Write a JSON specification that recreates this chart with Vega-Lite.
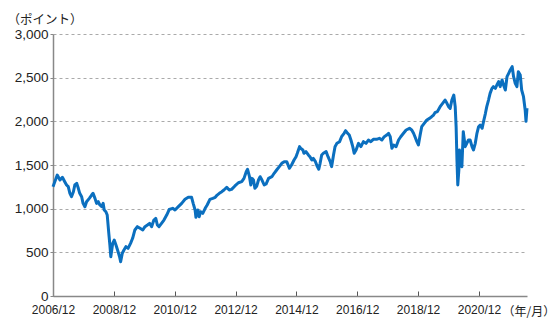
{
  "$schema": "https://vega.github.io/schema/vega-lite/v6.json",
  "width": 474,
  "height": 262,
  "autosize": "none",
  "padding": {"left": 53, "top": 34, "right": 28, "bottom": 26},
  "background": "white",
  "config": {"view": {"stroke": null}},
  "data": {"values": [
    {"date": "2006-12-01", "value": 1252},
    {"date": "2007-01-21", "value": 1385},
    {"date": "2007-02-23", "value": 1328},
    {"date": "2007-03-24", "value": 1359},
    {"date": "2007-04-21", "value": 1309},
    {"date": "2007-05-13", "value": 1271},
    {"date": "2007-06-02", "value": 1252},
    {"date": "2007-06-22", "value": 1176},
    {"date": "2007-07-11", "value": 1137},
    {"date": "2007-08-03", "value": 1194},
    {"date": "2007-08-20", "value": 1271},
    {"date": "2007-09-12", "value": 1290},
    {"date": "2007-10-01", "value": 1233},
    {"date": "2007-10-18", "value": 1176},
    {"date": "2007-11-10", "value": 1137},
    {"date": "2007-11-27", "value": 1061},
    {"date": "2007-12-19", "value": 1023},
    {"date": "2008-01-08", "value": 1080},
    {"date": "2008-02-10", "value": 1118},
    {"date": "2008-03-09", "value": 1156},
    {"date": "2008-03-26", "value": 1176},
    {"date": "2008-04-18", "value": 1118},
    {"date": "2008-05-07", "value": 1061},
    {"date": "2008-05-27", "value": 1080},
    {"date": "2008-06-16", "value": 1042},
    {"date": "2008-07-08", "value": 1023},
    {"date": "2008-07-25", "value": 1061},
    {"date": "2008-08-07", "value": 985},
    {"date": "2008-08-27", "value": 965},
    {"date": "2008-09-12", "value": 927},
    {"date": "2008-10-01", "value": 718},
    {"date": "2008-10-14", "value": 584},
    {"date": "2008-10-25", "value": 450},
    {"date": "2008-11-17", "value": 603},
    {"date": "2008-12-05", "value": 641},
    {"date": "2008-12-26", "value": 584},
    {"date": "2009-01-14", "value": 527},
    {"date": "2009-02-07", "value": 450},
    {"date": "2009-02-20", "value": 393},
    {"date": "2009-03-12", "value": 489},
    {"date": "2009-04-01", "value": 527},
    {"date": "2009-04-24", "value": 565},
    {"date": "2009-05-20", "value": 546},
    {"date": "2009-06-19", "value": 603},
    {"date": "2009-07-14", "value": 661},
    {"date": "2009-08-10", "value": 756},
    {"date": "2009-09-09", "value": 794},
    {"date": "2009-10-11", "value": 775},
    {"date": "2009-11-13", "value": 756},
    {"date": "2009-12-09", "value": 794},
    {"date": "2010-01-08", "value": 813},
    {"date": "2010-02-03", "value": 832},
    {"date": "2010-02-27", "value": 794},
    {"date": "2010-03-26", "value": 870},
    {"date": "2010-04-18", "value": 889},
    {"date": "2010-05-07", "value": 813},
    {"date": "2010-05-27", "value": 794},
    {"date": "2010-06-26", "value": 832},
    {"date": "2010-07-25", "value": 870},
    {"date": "2010-08-27", "value": 927},
    {"date": "2010-09-26", "value": 990},
    {"date": "2010-11-07", "value": 1004},
    {"date": "2010-12-05", "value": 985},
    {"date": "2011-01-14", "value": 1023},
    {"date": "2011-02-23", "value": 1061},
    {"date": "2011-04-04", "value": 1107},
    {"date": "2011-05-13", "value": 1130},
    {"date": "2011-06-22", "value": 1130},
    {"date": "2011-07-11", "value": 1061},
    {"date": "2011-08-03", "value": 985},
    {"date": "2011-08-13", "value": 901},
    {"date": "2011-09-05", "value": 985},
    {"date": "2011-09-22", "value": 908},
    {"date": "2011-10-08", "value": 965},
    {"date": "2011-11-03", "value": 946},
    {"date": "2011-12-02", "value": 1004},
    {"date": "2011-12-26", "value": 1042},
    {"date": "2012-01-28", "value": 1107},
    {"date": "2012-03-02", "value": 1118},
    {"date": "2012-04-01", "value": 1130},
    {"date": "2012-04-24", "value": 1156},
    {"date": "2012-05-20", "value": 1176},
    {"date": "2012-06-19", "value": 1194},
    {"date": "2012-07-14", "value": 1214},
    {"date": "2012-08-17", "value": 1244},
    {"date": "2012-09-16", "value": 1214},
    {"date": "2012-10-14", "value": 1221},
    {"date": "2012-11-23", "value": 1260},
    {"date": "2013-01-04", "value": 1297},
    {"date": "2013-02-13", "value": 1309},
    {"date": "2013-03-12", "value": 1347},
    {"date": "2013-04-08", "value": 1423},
    {"date": "2013-04-24", "value": 1451},
    {"date": "2013-05-17", "value": 1366},
    {"date": "2013-06-02", "value": 1271},
    {"date": "2013-06-16", "value": 1347},
    {"date": "2013-07-04", "value": 1328},
    {"date": "2013-07-21", "value": 1233},
    {"date": "2013-08-13", "value": 1260},
    {"date": "2013-09-02", "value": 1328},
    {"date": "2013-09-22", "value": 1366},
    {"date": "2013-10-14", "value": 1328},
    {"date": "2013-11-10", "value": 1271},
    {"date": "2013-12-02", "value": 1282},
    {"date": "2014-01-01", "value": 1347},
    {"date": "2014-02-10", "value": 1366},
    {"date": "2014-03-09", "value": 1405},
    {"date": "2014-04-08", "value": 1443},
    {"date": "2014-05-10", "value": 1481},
    {"date": "2014-06-09", "value": 1519},
    {"date": "2014-07-08", "value": 1538},
    {"date": "2014-08-07", "value": 1538},
    {"date": "2014-09-09", "value": 1462},
    {"date": "2014-10-04", "value": 1500},
    {"date": "2014-11-03", "value": 1557},
    {"date": "2014-11-27", "value": 1595},
    {"date": "2014-12-12", "value": 1634},
    {"date": "2015-01-08", "value": 1710},
    {"date": "2015-01-21", "value": 1691},
    {"date": "2015-02-17", "value": 1672},
    {"date": "2015-03-02", "value": 1634},
    {"date": "2015-03-26", "value": 1653},
    {"date": "2015-04-24", "value": 1615},
    {"date": "2015-05-13", "value": 1595},
    {"date": "2015-06-05", "value": 1557},
    {"date": "2015-06-22", "value": 1576},
    {"date": "2015-07-18", "value": 1538},
    {"date": "2015-08-10", "value": 1481},
    {"date": "2015-08-27", "value": 1451},
    {"date": "2015-09-12", "value": 1519},
    {"date": "2015-10-01", "value": 1615},
    {"date": "2015-10-21", "value": 1634},
    {"date": "2015-11-23", "value": 1653},
    {"date": "2015-12-16", "value": 1595},
    {"date": "2016-01-11", "value": 1538},
    {"date": "2016-01-28", "value": 1481},
    {"date": "2016-02-20", "value": 1615},
    {"date": "2016-03-09", "value": 1710},
    {"date": "2016-04-01", "value": 1748},
    {"date": "2016-05-03", "value": 1767},
    {"date": "2016-05-27", "value": 1824},
    {"date": "2016-06-26", "value": 1863},
    {"date": "2016-07-14", "value": 1893},
    {"date": "2016-08-07", "value": 1863},
    {"date": "2016-08-27", "value": 1843},
    {"date": "2016-09-16", "value": 1786},
    {"date": "2016-10-08", "value": 1710},
    {"date": "2016-10-25", "value": 1634},
    {"date": "2016-11-17", "value": 1672},
    {"date": "2016-12-16", "value": 1748},
    {"date": "2017-01-14", "value": 1710},
    {"date": "2017-02-13", "value": 1767},
    {"date": "2017-03-16", "value": 1748},
    {"date": "2017-04-14", "value": 1786},
    {"date": "2017-05-13", "value": 1767},
    {"date": "2017-06-12", "value": 1794},
    {"date": "2017-07-21", "value": 1794},
    {"date": "2017-08-23", "value": 1805},
    {"date": "2017-09-22", "value": 1786},
    {"date": "2017-10-21", "value": 1824},
    {"date": "2017-11-20", "value": 1843},
    {"date": "2017-12-12", "value": 1863},
    {"date": "2018-01-01", "value": 1824},
    {"date": "2018-01-21", "value": 1691},
    {"date": "2018-02-10", "value": 1729},
    {"date": "2018-03-12", "value": 1710},
    {"date": "2018-04-11", "value": 1786},
    {"date": "2018-05-07", "value": 1824},
    {"date": "2018-06-09", "value": 1863},
    {"date": "2018-07-11", "value": 1901},
    {"date": "2018-08-20", "value": 1920},
    {"date": "2018-09-16", "value": 1901},
    {"date": "2018-10-08", "value": 1863},
    {"date": "2018-10-25", "value": 1824},
    {"date": "2018-11-17", "value": 1767},
    {"date": "2018-12-05", "value": 1729},
    {"date": "2018-12-26", "value": 1843},
    {"date": "2019-01-14", "value": 1939},
    {"date": "2019-02-13", "value": 1977},
    {"date": "2019-03-16", "value": 2015},
    {"date": "2019-04-18", "value": 2034},
    {"date": "2019-05-13", "value": 2053},
    {"date": "2019-06-05", "value": 2072},
    {"date": "2019-06-22", "value": 2099},
    {"date": "2019-07-21", "value": 2111},
    {"date": "2019-08-23", "value": 2168},
    {"date": "2019-09-22", "value": 2206},
    {"date": "2019-10-21", "value": 2244},
    {"date": "2019-11-13", "value": 2206},
    {"date": "2019-12-02", "value": 2168},
    {"date": "2019-12-22", "value": 2149},
    {"date": "2020-01-11", "value": 2244},
    {"date": "2020-02-03", "value": 2301},
    {"date": "2020-02-20", "value": 2168},
    {"date": "2020-03-02", "value": 1939},
    {"date": "2020-03-12", "value": 1557},
    {"date": "2020-03-22", "value": 1271},
    {"date": "2020-04-04", "value": 1443},
    {"date": "2020-04-11", "value": 1672},
    {"date": "2020-04-28", "value": 1557},
    {"date": "2020-05-10", "value": 1481},
    {"date": "2020-05-27", "value": 1882},
    {"date": "2020-06-19", "value": 1710},
    {"date": "2020-07-08", "value": 1748},
    {"date": "2020-07-28", "value": 1786},
    {"date": "2020-08-17", "value": 1786},
    {"date": "2020-09-09", "value": 1710},
    {"date": "2020-09-26", "value": 1672},
    {"date": "2020-10-18", "value": 1748},
    {"date": "2020-11-07", "value": 1863},
    {"date": "2020-11-27", "value": 1939},
    {"date": "2020-12-16", "value": 1958},
    {"date": "2021-01-08", "value": 1920},
    {"date": "2021-01-25", "value": 1996},
    {"date": "2021-02-17", "value": 2092},
    {"date": "2021-03-05", "value": 2168},
    {"date": "2021-03-26", "value": 2244},
    {"date": "2021-04-14", "value": 2320},
    {"date": "2021-05-07", "value": 2378},
    {"date": "2021-05-23", "value": 2397},
    {"date": "2021-06-16", "value": 2378},
    {"date": "2021-07-04", "value": 2416},
    {"date": "2021-07-25", "value": 2454},
    {"date": "2021-08-13", "value": 2397},
    {"date": "2021-09-05", "value": 2473},
    {"date": "2021-09-22", "value": 2416},
    {"date": "2021-10-14", "value": 2359},
    {"date": "2021-11-03", "value": 2511},
    {"date": "2021-11-23", "value": 2550},
    {"date": "2021-12-12", "value": 2588},
    {"date": "2022-01-04", "value": 2626},
    {"date": "2022-01-21", "value": 2511},
    {"date": "2022-02-10", "value": 2435},
    {"date": "2022-03-02", "value": 2397},
    {"date": "2022-03-19", "value": 2569},
    {"date": "2022-04-11", "value": 2530},
    {"date": "2022-04-28", "value": 2359},
    {"date": "2022-05-20", "value": 2282},
    {"date": "2022-06-09", "value": 2130},
    {"date": "2022-06-19", "value": 2000},
    {"date": "2022-07-01", "value": 2150}
  ]},
  "mark": {"type": "line", "color": "#0b6fbf", "strokeWidth": 3, "strokeJoin": "round"},
  "encoding": {
    "x": {
      "field": "date",
      "type": "temporal",
      "scale": {"type": "utc", "domain": [{"year": 2006, "month": 12, "date": 1, "utc": true}, {"year": 2022, "month": 7, "date": 1, "utc": true}]},
      "axis": {
        "values": [
          {"year": 2006, "month": 12, "date": 1, "utc": true},
          {"year": 2008, "month": 12, "date": 1, "utc": true},
          {"year": 2010, "month": 12, "date": 1, "utc": true},
          {"year": 2012, "month": 12, "date": 1, "utc": true},
          {"year": 2014, "month": 12, "date": 1, "utc": true},
          {"year": 2016, "month": 12, "date": 1, "utc": true},
          {"year": 2018, "month": 12, "date": 1, "utc": true},
          {"year": 2020, "month": 12, "date": 1, "utc": true}
        ],
        "format": "%Y/%m",
        "grid": false,
        "domainColor": "#888888",
        "domainWidth": 1.5,
        "tickColor": "#555555",
        "tickSize": -5,
        "tickWidth": 1,
        "labelFont": "Liberation Sans",
        "labelFontSize": 12,
        "labelColor": "#222222",
        "labelPadding": 13,
        "labelFlush": false,
        "labelOverlap": false,
        "title": "（年/月）",
        "titleFont": "Noto Sans CJK JP",
        "titleFontSize": 12,
        "titleFontWeight": "normal",
        "titleColor": "#222222",
        "titleX": 449,
        "titleY": 15,
        "titleAlign": "left",
        "titleBaseline": "middle",
        "titleAnchor": null
      }
    },
    "y": {
      "field": "value",
      "type": "quantitative",
      "scale": {"domain": [0, 3000], "nice": false},
      "axis": {
        "values": [0, 500, 1000, 1500, 2000, 2500, 3000],
        "format": ",d",
        "grid": true,
        "gridColor": "#aaaaaa",
        "gridDash": [3, 3],
        "gridWidth": 1,
        "domainColor": "#888888",
        "domainWidth": 1.5,
        "tickSize": 3,
        "tickColor": "#888888",
        "labelFont": "Liberation Sans",
        "labelFontSize": 13.5,
        "labelColor": "#222222",
        "labelPadding": 2,
        "title": "（ポイント）",
        "titleFont": "Noto Sans CJK JP",
        "titleFontSize": 12.5,
        "titleFontWeight": "normal",
        "titleColor": "#222222",
        "titleAngle": 0,
        "titleX": -46,
        "titleY": -15,
        "titleAlign": "left",
        "titleBaseline": "middle",
        "titleAnchor": null
      }
    }
  }
}
